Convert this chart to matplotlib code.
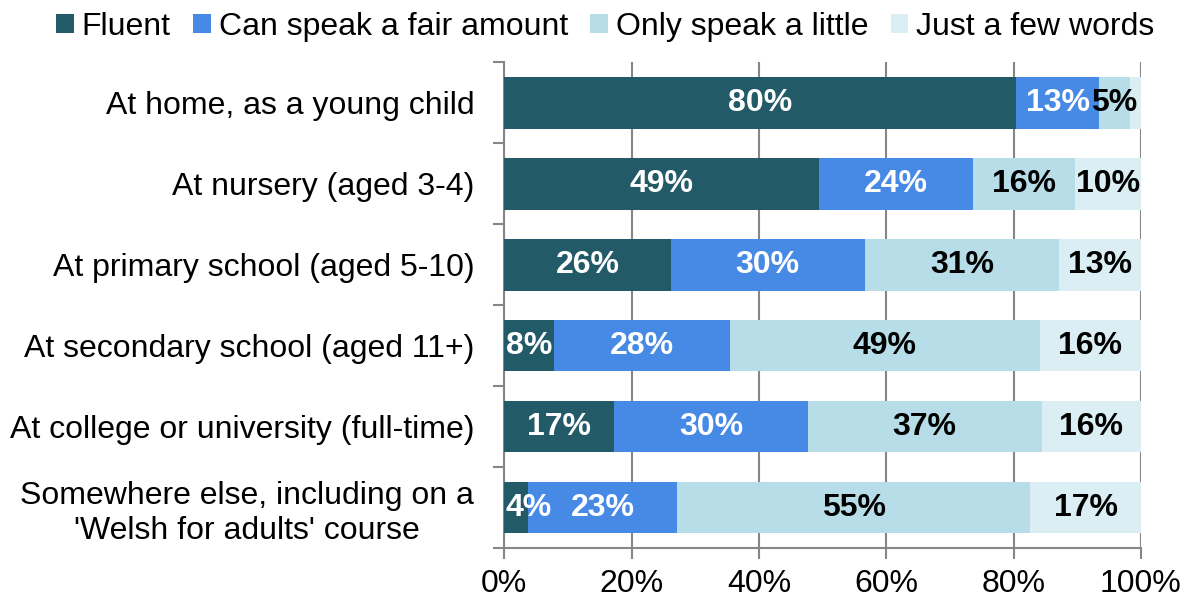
import numpy as np
import matplotlib.pyplot as plt
from matplotlib.patches import Patch
from matplotlib.ticker import FixedLocator, PercentFormatter

plt.rcParams['font.family'] = ['Liberation Sans', 'DejaVu Sans']

# data (percent)
places = ["At home, as a young child",
          "At nursery (aged 3-4)",
          "At primary school (aged 5-10)",
          "At secondary school (aged 11+)",
          "At college or university (full-time)",
          "Somewhere else, including on a\n'Welsh for adults' course"]
series = ["Fluent", "Can speak a fair amount", "Only speak a little", "Just a few words"]
fluent = [80.4, 49.4, 26.2, 7.9, 17.3, 3.8]
fair = [13.0, 24.2, 30.4, 27.6, 30.4, 23.4]
little = [4.9, 16.0, 30.6, 48.6, 36.7, 55.4]
few = [1.7, 10.4, 12.8, 15.9, 15.6, 17.4]

colors = ['#225A68', '#478AE6', '#B7DDE8', '#DAEEF3']
label_colors = ['white', 'white', 'black', 'black']
fs = 23

fig = plt.figure(figsize=(11.89, 5.98), dpi=100)
ax = fig.add_axes([0.424, 0.0836, 0.5356, 0.8124])

y = np.arange(len(places))
left = np.zeros(len(places))
for name, vals, col, lcol in zip(series, [fluent, fair, little, few], colors, label_colors):
    vals = np.array(vals)
    ax.barh(y, vals, left=left, height=0.64, color=col, zorder=3)
    for yi, l, v in zip(y, left, vals):
        if v < 3:
            continue
        x, ha = l + v / 2, 'center'
        if l == 0 and v < 7:
            # keep small labels inside the plot area
            x, ha = 0.2, 'left'
        ax.text(x, yi, "{:.0f}%".format(v), ha=ha, va='center',
                color=lcol, fontsize=fs, fontweight='bold', zorder=4)
    left = left + vals

ax.set_xlim(0, 100)
ax.set_ylim(len(places) - 0.5, -0.5)
ax.xaxis.set_major_locator(FixedLocator([0, 20, 40, 60, 80, 100]))
ax.xaxis.set_major_formatter(PercentFormatter(decimals=0))
ax.grid(axis='x', color='#868686', linewidth=1.5, zorder=0)

ax.set_yticks(y)
ax.set_yticklabels(places, fontsize=fs, multialignment='center')
ax.yaxis.set_minor_locator(FixedLocator(np.arange(len(places) + 1) - 0.5))
ax.tick_params(axis='y', which='major', length=0, pad=21.5)
ax.tick_params(axis='y', which='minor', length=8, width=1.5, color='#868686')
ax.tick_params(axis='x', labelsize=fs, length=8, width=1.5, color='#868686', pad=7)

for side in ['top', 'right']:
    ax.spines[side].set_visible(False)
for side in ['left', 'bottom']:
    ax.spines[side].set_color('#868686')
    ax.spines[side].set_linewidth(1.5)

handles = [Patch(facecolor=c, label=s) for s, c in zip(series, colors)]
fig.legend(handles=handles, loc='center', bbox_to_anchor=(0.509, 0.955), ncol=4,
           frameon=False, fontsize=fs, handlelength=0.55, handleheight=0.55,
           handletextpad=0.25, columnspacing=0.7, borderaxespad=0)

fig.savefig('out.png', dpi=100)
